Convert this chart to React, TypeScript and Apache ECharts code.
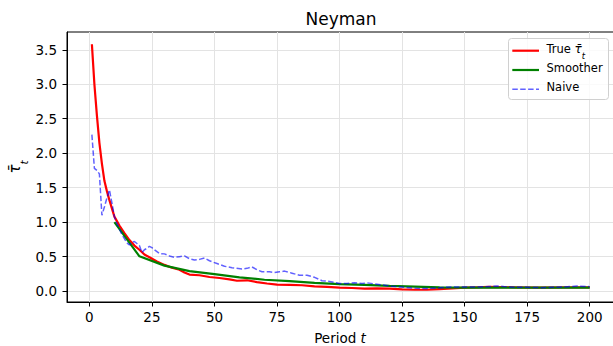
import React, { useEffect, useRef } from 'react';
import * as echarts from 'echarts';

const trueSeries: [number, number][] = [
  [1, 3.58], [2, 3.0], [3, 2.55], [4, 2.15], [5, 1.85], [6, 1.6], [7, 1.45], [8, 1.32], [9, 1.2], [10, 1.08],
  [12, 0.95], [14, 0.84], [16, 0.74], [18, 0.66], [20, 0.6], [22, 0.53], [24, 0.49], [27, 0.43], [30, 0.38],
  [33, 0.34], [36, 0.31], [38, 0.27], [40, 0.24], [44, 0.23], [48, 0.205], [52, 0.19], [56, 0.17], [59, 0.15],
  [63, 0.157], [67, 0.13], [71, 0.11], [75, 0.095], [80, 0.09], [85, 0.085], [90, 0.07], [95, 0.06], [100, 0.05],
  [105, 0.045], [110, 0.035], [115, 0.04], [120, 0.035], [125, 0.025], [130, 0.02], [135, 0.02], [140, 0.03],
  [145, 0.04], [150, 0.05], [155, 0.055], [160, 0.06], [170, 0.055], [180, 0.05], [190, 0.055], [200, 0.055],
];

const smootherSeries: [number, number][] = [
  [10, 1.0], [20, 0.505], [30, 0.37], [40, 0.29], [50, 0.245], [60, 0.2], [70, 0.165], [80, 0.145], [90, 0.12],
  [100, 0.1], [110, 0.09], [120, 0.075], [130, 0.065], [140, 0.055], [150, 0.05], [160, 0.05], [170, 0.05],
  [180, 0.05], [190, 0.05], [200, 0.05],
];

const naiveSeries: [number, number][] = [
  [1, 2.27], [2, 1.78], [3, 1.75], [4, 1.7], [5, 1.1], [6, 1.22], [7, 1.35], [8, 1.47], [9, 1.28], [10, 1.08],
  [11, 0.98], [12, 0.9], [13, 0.82], [14, 0.76], [15, 0.7], [16, 0.67], [17, 0.71], [18, 0.72], [19, 0.69],
  [20, 0.66], [21, 0.56], [22, 0.6], [23, 0.62], [24, 0.65], [25, 0.63], [26, 0.6], [28, 0.545], [30, 0.54],
  [32, 0.51], [34, 0.49], [36, 0.5], [38, 0.51], [40, 0.47], [42, 0.45], [44, 0.46], [46, 0.48], [48, 0.44],
  [51, 0.4], [54, 0.36], [57, 0.34], [61, 0.32], [63, 0.33], [65, 0.35], [67, 0.31], [69, 0.28], [72, 0.28],
  [74, 0.27], [76, 0.28], [78, 0.29], [81, 0.26], [84, 0.23], [87, 0.23], [90, 0.2], [93, 0.15], [96, 0.14],
  [100, 0.11], [103, 0.11], [106, 0.12], [109, 0.11], [111, 0.12], [115, 0.1], [118, 0.085], [121, 0.07],
  [125, 0.06], [128, 0.05], [132, 0.036], [136, 0.04], [140, 0.05], [145, 0.06], [150, 0.06], [155, 0.06],
  [160, 0.065], [163, 0.074], [166, 0.065], [170, 0.055], [175, 0.055], [180, 0.05], [185, 0.055], [190, 0.06],
  [195, 0.074], [200, 0.065],
];

const xTicks = [0, 25, 50, 75, 100, 125, 150, 175, 200];
const yTicks = [0, 0.5, 1.0, 1.5, 2.0, 2.5, 3.0, 3.5];

const FONT = 'DejaVu Sans';
const RED = '#ff0000';
const GREEN = '#008000';
const BLUE = 'rgba(0,0,255,0.62)';
const DASH = [5.5, 2.4];

export default function App() {
  const ref = useRef<HTMLDivElement>(null);
  useEffect(() => {
    const chart = echarts.init(ref.current!, null, { renderer: 'svg' });
    const legendRows = [
      { y: 50.7, color: RED, dash: 'solid' as any, width: 2.2, text: '{n|True }{a|τ̄}{b|t}' },
      { y: 70, color: GREEN, dash: 'solid' as any, width: 2.2, text: '{n|Smoother}' },
      { y: 89.3, color: BLUE, dash: DASH, width: 1.5, text: '{n|Naive}' },
    ];
    const legendRich = {
      n: { fontSize: 11.5, fontFamily: FONT, fill: '#000', lineHeight: 16, verticalAlign: 'top' },
      a: { fontSize: 12, fontFamily: FONT, fontStyle: 'italic', fill: '#000', lineHeight: 16, verticalAlign: 'top' },
      b: { fontSize: 8.5, fontFamily: FONT, fontStyle: 'italic', fill: '#000', lineHeight: 10, padding: [9, 0, 0, 0], verticalAlign: 'top' },
    };
    const graphics: any[] = [
      {
        type: 'text', x: 341, y: 19, z: 100,
        style: { text: 'Neyman', font: `17px "${FONT}"`, fill: '#000', align: 'center', verticalAlign: 'middle' },
      },
      {
        type: 'text', x: 340, y: 338, z: 100,
        style: {
          text: '{n|Period }{i|t}', align: 'center', verticalAlign: 'middle',
          rich: {
            n: { fontSize: 13.5, fontFamily: FONT, fill: '#000' },
            i: { fontSize: 13.5, fontFamily: FONT, fontStyle: 'italic', fill: '#000' },
          },
        },
      },
      {
        type: 'text', x: 17, y: 167, rotation: Math.PI / 2, z: 100,
        style: {
          text: '{a|τ̄}{b|t}', align: 'center', verticalAlign: 'middle',
          rich: {
            a: { fontSize: 15, fontFamily: FONT, fontStyle: 'italic', fill: '#000', lineHeight: 20, verticalAlign: 'top' },
            b: { fontSize: 10.5, fontFamily: FONT, fontStyle: 'italic', fill: '#000', lineHeight: 12, padding: [11, 0, 0, 0], verticalAlign: 'top' },
          },
        },
      },
      {
        type: 'rect', z: 100,
        shape: { x: 508.5, y: 38.5, width: 100, height: 61, r: 3 },
        style: { fill: 'rgba(255,255,255,0.8)', stroke: '#d0d0d0', lineWidth: 1 },
      },
    ];
    legendRows.forEach((r) => {
      graphics.push({
        type: 'line', z: 101,
        shape: { x1: 512.3, y1: r.y, x2: 539, y2: r.y },
        style: { stroke: r.color, lineWidth: r.width, lineDash: r.dash === 'solid' ? null : r.dash },
      });
      graphics.push({
        type: 'text', z: 101, x: 546.5, y: r.y,
        style: { text: r.text, rich: legendRich, align: 'left', verticalAlign: 'middle' },
      });
    });

    chart.setOption({
      animation: false,
      backgroundColor: '#fff',
      grid: {
        left: 67, top: 32, right: 1.4, bottom: 44,
        show: true, borderColor: '#000', borderWidth: 1, backgroundColor: 'transparent',
      },
      xAxis: {
        type: 'value', min: -8.95, max: 209.95,
        axisLine: { show: true, onZero: false, lineStyle: { color: '#000', width: 1 } },
        axisTick: { show: true, length: 4.5, customValues: xTicks, lineStyle: { color: '#000', width: 1 } },
        axisLabel: { customValues: xTicks, fontSize: 13.5, fontFamily: FONT, color: '#000', margin: 8, formatter: (v: number) => String(v) },
        splitLine: { show: true, lineStyle: { color: '#e3e3e3', width: 1 } },
      },
      yAxis: {
        type: 'value', min: -0.158, max: 3.758,
        axisLine: { show: true, onZero: false, lineStyle: { color: '#000', width: 1 } },
        axisTick: { show: true, length: 4.5, customValues: yTicks, lineStyle: { color: '#000', width: 1 } },
        axisLabel: { customValues: yTicks, fontSize: 13.5, fontFamily: FONT, color: '#000', margin: 10, formatter: (v: number) => v.toFixed(1) },
        splitLine: { show: true, lineStyle: { color: '#e3e3e3', width: 1 } },
      },
      series: [
        {
          name: 'True τ̄t', type: 'line', data: trueSeries, showSymbol: false, symbol: 'none', z: 2,
          lineStyle: { color: RED, width: 2.2 }, itemStyle: { color: RED },
        },
        {
          name: 'Smoother', type: 'line', data: smootherSeries, showSymbol: false, symbol: 'none', z: 3,
          lineStyle: { color: GREEN, width: 2.2 }, itemStyle: { color: GREEN },
        },
        {
          name: 'Naive', type: 'line', data: naiveSeries, showSymbol: false, symbol: 'none', z: 4,
          lineStyle: { color: BLUE, width: 1.5, type: DASH }, itemStyle: { color: BLUE },
        },
      ],
      graphic: graphics,
    });
    return () => chart.dispose();
  }, []);
  return (
    <div style={{ position: 'fixed', left: 0, top: 0, width: 613, height: 346, overflow: 'hidden', background: '#fff' }}>
      <div ref={ref} style={{ width: 616, height: 346 }} />
    </div>
  );
}
